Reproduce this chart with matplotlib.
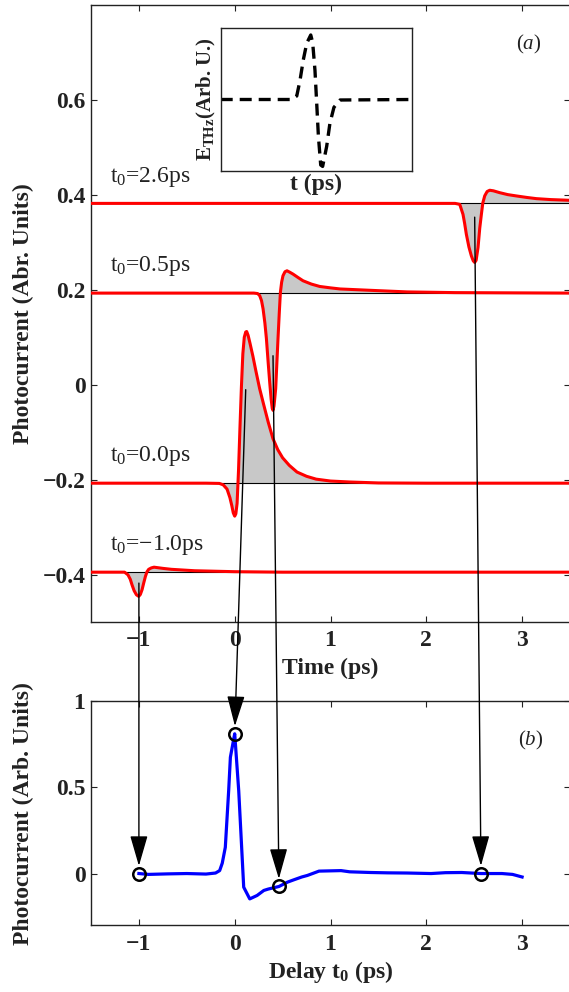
import matplotlib
matplotlib.use('Agg')
import matplotlib.pyplot as plt
from matplotlib.patches import ConnectionPatch

# ---------------- data ----------------
# trace t0 = 2.6 ps
tr26_t = [-1.5, 2.30, 2.349, 2.383, 2.40, 2.418, 2.445, 2.47, 2.49, 2.505, 2.52, 2.54, 2.558,
          2.575, 2.59, 2.61, 2.635, 2.662, 2.70, 2.766, 2.85, 2.94, 3.05, 3.149, 3.3, 3.5]
tr26_v = [0.382, 0.382, 0.380, 0.359, 0.34, 0.317, 0.29, 0.2716, 0.261, 0.2576, 0.262, 0.289, 0.33,
          0.359, 0.383, 0.398, 0.407, 0.4097, 0.4085, 0.4046, 0.4005, 0.3977, 0.3945, 0.392, 0.390, 0.3885]
tr26_base = 0.382

# trace t0 = 0.5 ps
tr05_t = [-1.5, 0.2, 0.24, 0.261, 0.28, 0.296, 0.315, 0.331, 0.35, 0.365, 0.38, 0.392, 0.40, 0.41,
          0.42, 0.428, 0.44, 0.452, 0.465, 0.477, 0.49, 0.504, 0.525, 0.546, 0.575, 0.609, 0.66,
          0.713, 0.80, 0.887, 1.0, 1.1, 1.4, 1.8, 2.3, 3.5]
tr05_v = [0.193, 0.193, 0.192, 0.1876, 0.177, 0.160, 0.13, 0.097, 0.045, 0.006, -0.03, -0.05, -0.054,
          -0.045, -0.025, -0.008, 0.045, 0.097, 0.15, 0.1945, 0.216, 0.2296, 0.238, 0.240, 0.237,
          0.233, 0.226, 0.219, 0.212, 0.207, 0.204, 0.2017, 0.199, 0.1955, 0.194, 0.193]
tr05_base = 0.193

# trace t0 = 0.0 ps
tr00_t = [-1.5, -0.3, -0.16, -0.12, -0.08, -0.05, -0.03, -0.015, 0.0, 0.012, 0.025, 0.04, 0.055,
          0.07, 0.085, 0.10, 0.115, 0.125, 0.14, 0.16, 0.19, 0.22, 0.26, 0.30, 0.35, 0.40, 0.45,
          0.50, 0.57, 0.65, 0.75, 0.85, 1.0, 1.2, 1.5, 2.0, 3.5]
tr00_v = [-0.2075, -0.2075, -0.208, -0.211, -0.22, -0.238, -0.255, -0.27, -0.277, -0.272, -0.25,
          -0.18, -0.09, -0.005, 0.065, 0.10, 0.111, 0.112, 0.104, 0.087, 0.06, 0.03, -0.008, -0.04,
          -0.079, -0.114, -0.137, -0.154, -0.17, -0.184, -0.193, -0.199, -0.203, -0.205, -0.207,
          -0.2075, -0.2075]
tr00_base = -0.2075

# trace t0 = -1.0 ps
trm1_t = [-1.5, -1.15, -1.114, -1.09, -1.072, -1.05, -1.026, -1.002, -0.985, -0.967, -0.95, -0.932,
          -0.915, -0.898, -0.87, -0.842, -0.75, -0.661, -0.5, -0.418, 0.0, 0.5, 3.5]
trm1_v = [-0.395, -0.395, -0.4006, -0.41, -0.4216, -0.434, -0.4426, -0.446, -0.442, -0.432, -0.418,
          -0.404, -0.394, -0.389, -0.386, -0.3845, -0.387, -0.389, -0.391, -0.392, -0.394, -0.395, -0.395]
trm1_base = -0.395

trace_labels = ['$\\mathrm{t_0}$=2.6ps', '$\\mathrm{t_0}$=0.5ps',
                '$\\mathrm{t_0}$=0.0ps', '$\\mathrm{t_0}$=\u22121.0ps']

# inset THz field (normalised time)
thz_u = [0.0, 0.370, 0.397, 0.414, 0.431, 0.449, 0.470, 0.480, 0.492, 0.501, 0.510, 0.522,
         0.532, 0.553, 0.570, 0.591, 0.623, 1.0]
thz_E = [0.0, 0.0, 0.05, 0.27, 0.555, 0.79, 0.906, 0.8, 0.41, -0.05, -0.52, -0.92,
         -0.94, -0.66, -0.335, -0.11, -0.007, 0.0]

# panel (b): photocurrent vs delay
delay_t = [-1.0, -0.9, -0.7, -0.5, -0.3, -0.2, -0.157, -0.13, -0.098, -0.063, -0.045, -0.02, 0.0,
           0.042, 0.094, 0.157, 0.234, 0.304, 0.35, 0.462, 0.55, 0.619, 0.70, 0.759, 0.88, 1.11,
           1.2, 1.42, 1.6, 1.8, 2.05, 2.2, 2.37, 2.57, 2.79, 2.9, 3.0]
delay_v = [0.0, -0.005, -0.002, 0.0, -0.003, 0.003, 0.017, 0.06, 0.152, 0.48, 0.674, 0.75, 0.81,
           0.48, -0.079, -0.147, -0.127, -0.098, -0.09, -0.075, -0.05, -0.036, -0.02, -0.011, 0.014,
           0.017, 0.01, 0.006, 0.004, 0.003, 0.0, 0.005, 0.006, 0.0, 0.0, -0.005, -0.02]

circ_t = [-1.0, 0.0, 0.462, 2.571]
circ_v = [0.0, 0.81, -0.075, 0.0]

arrow_start_t = [-1.0, 0.115, 0.40, 2.505]
arrow_start_v = [-0.418, -0.0105, 0.061, 0.353]

xticks = [-1, 0, 1, 2, 3]
yticks_a = [-0.4, -0.2, 0, 0.2, 0.4, 0.6]
yticks_b = [0, 0.5, 1]

# ---------------- style ----------------
plt.rcParams.update({
    'font.family': 'serif',
    'font.serif': ['Liberation Serif', 'DejaVu Serif'],
    'font.weight': 'normal',
    'mathtext.fontset': 'custom',
    'mathtext.rm': 'Liberation Serif:weight=normal',
    'mathtext.it': 'Liberation Serif:style=italic:weight=normal',
    'mathtext.bf': 'Liberation Serif:weight=bold',
    'axes.linewidth': 1.0,
    'axes.unicode_minus': True,
})
FS = 17
INK = '#222222'

fig = plt.figure(figsize=(5.69, 9.92), dpi=100)
W, H = 569.0, 992.0
ax1 = fig.add_axes([91 / W, (H - 622) / H, 479 / W, 617 / H])
ax2 = fig.add_axes([91 / W, (H - 925.3) / H, 479 / W, 224.3 / H])
axin = fig.add_axes([220.7 / W, (H - 170.7) / H, 191.6 / W, 142.4 / H])

gray = '#c8c8c8'
traces = [(tr26_t, tr26_v, tr26_base), (tr05_t, tr05_v, tr05_base),
          (tr00_t, tr00_v, tr00_base), (trm1_t, trm1_v, trm1_base)]
for (t, v, b), lab in zip(traces, trace_labels):
    ax1.fill_between(t, v, b, color=gray, lw=0, zorder=1)
    ax1.axhline(b, color='k', lw=0.8, zorder=2)
    ax1.plot(t, v, color='red', lw=2.2, zorder=3)
    ax1.text(-1.297, b + 0.046, lab, fontsize=FS, fontweight='normal',
             ha='left', va='baseline', color=INK)

ax1.set_xlim(-1.5, 3.5)
ax1.set_ylim(-0.5, 0.8)
ax1.set_xticks(xticks)
ax1.set_xticklabels(['\u22121', '0', '1', '2', '3'])
ax1.set_yticks(yticks_a)
ax1.set_yticklabels(['\u22120.4', '\u22120.2', '0', '0.2', '0.4', '0.6'])
ax1.set_xlabel('Time (ps)', fontsize=FS, fontweight='bold', color=INK)
ax1.set_ylabel('Photocurrent (Abr. Units)', fontsize=FS, fontweight='bold', color=INK)
ax1.text(3.07, 0.7176, '($\\mathit{a}$)', fontsize=15, fontweight='normal',
         ha='center', va='center', color=INK)

ax2.plot(delay_t, delay_v, color='blue', lw=2.3, zorder=3)
ax2.plot(circ_t, circ_v, ls='none', marker='o', ms=9, mfc='none', mec='k', mew=1.8, zorder=4)
ax2.set_xlim(-1.5, 3.5)
ax2.set_ylim(-0.3, 1.0)
ax2.set_xticks(xticks)
ax2.set_xticklabels(['\u22121', '0', '1', '2', '3'])
ax2.set_yticks(yticks_b)
ax2.set_yticklabels(['0', '0.5', '1'])
ax2.set_xlabel('Delay $\\mathbf{t_0}$ (ps)', fontsize=FS, fontweight='bold', color=INK)
ax2.set_ylabel('Photocurrent (Arb. Units)', fontsize=FS, fontweight='bold', color=INK)
ax2.text(3.09, 0.77, '($\\mathit{b}$)', fontsize=15, fontweight='normal',
         ha='center', va='center', color=INK)

for ax in (ax1, ax2):
    ax.tick_params(direction='in', top=True, right=True, length=4, width=0.8,
                   labelsize=FS, colors=INK)
    ax.tick_params(axis='x', pad=6)
    ax.tick_params(axis='y', pad=4)
    for lab in ax.get_xticklabels() + ax.get_yticklabels():
        lab.set_fontweight('bold')
    ax.yaxis.set_label_coords(-68 / 479.0, 0.5)
    ax.yaxis.label.set_verticalalignment('center')
    for s in ax.spines.values():
        s.set_color(INK)

ax1.xaxis.set_label_coords(0.5, -46 / 617.0)
ax1.xaxis.label.set_verticalalignment('center')
ax2.xaxis.set_label_coords(0.5, -46.7 / 224.3)
ax2.xaxis.label.set_verticalalignment('center')

axin.plot(thz_u, thz_E, color='k', lw=2.4, ls=(0, (3.6, 2.1)))
axin.set_xlim(0, 1)
axin.set_ylim(-1, 1)
axin.set_xticks([])
axin.set_yticks([])
axin.set_xlabel('t (ps)', fontsize=FS, fontweight='bold', labelpad=2, color=INK)
axin.set_ylabel('$\\mathbf{E_{THz}}$(Arb. U.)', fontsize=15, fontweight='bold',
                labelpad=2, color=INK)
for s in axin.spines.values():
    s.set_color(INK)

for xa, ya, xb, yb in zip(arrow_start_t, arrow_start_v, circ_t, circ_v):
    con = ConnectionPatch(xyA=(xa, ya), coordsA=ax1.transData,
                          xyB=(xb, yb), coordsB=ax2.transData,
                          arrowstyle='-|>,head_length=1.9,head_width=0.55',
                          mutation_scale=10, lw=1.0, color='k',
                          shrinkA=0, shrinkB=5.5, zorder=10)
    fig.add_artist(con)

fig.savefig('out.png', dpi=100)
